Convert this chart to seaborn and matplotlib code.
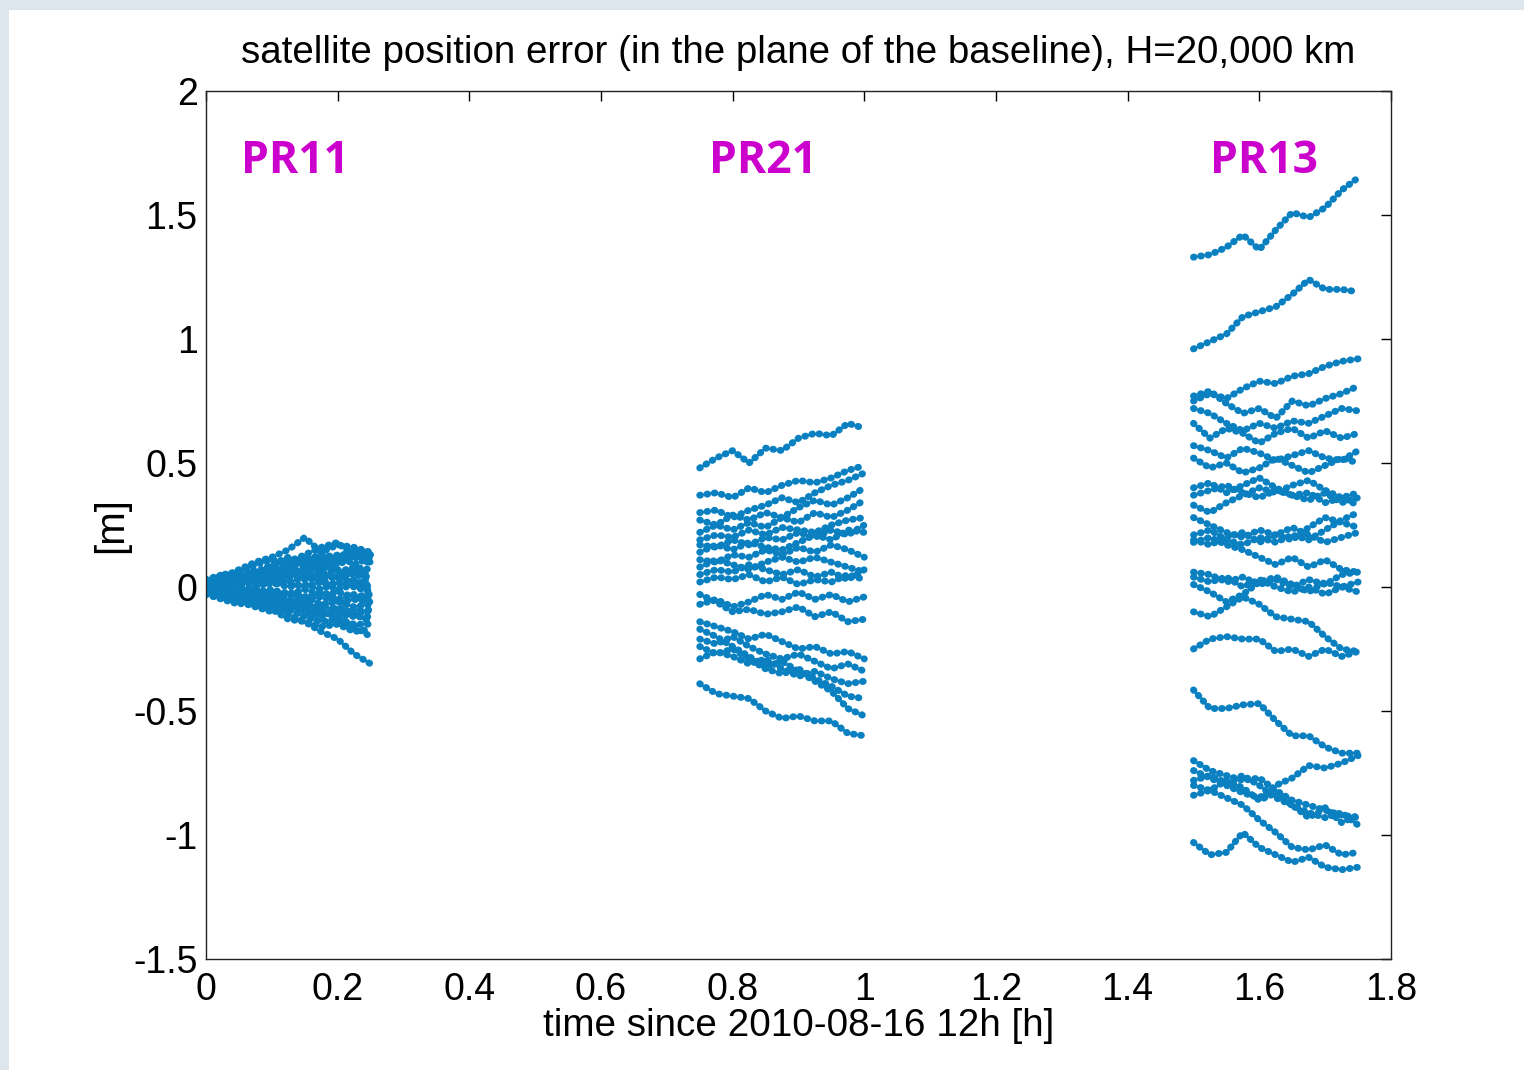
import matplotlib
matplotlib.use("Agg")
import matplotlib.pyplot as plt
from matplotlib.patches import Rectangle
import seaborn as sns
import pandas as pd

# ---------------- data ----------------
pr11_t = [0.0, 0.025, 0.05, 0.075, 0.1, 0.125, 0.15, 0.175, 0.2, 0.225, 0.25]
pr11_tracks = [
    [0.00, 0.04, 0.07, 0.10, 0.12, 0.15, 0.20, 0.14, 0.17, 0.16, 0.14],
    [0.01, 0.05, 0.06, 0.09, 0.11, 0.10, 0.13, 0.16, 0.18, 0.12, 0.15],
    [0.00, 0.03, 0.05, 0.06, 0.08, 0.11, 0.09, 0.12, 0.10, 0.13, 0.11],
    [-0.01, 0.02, 0.04, 0.07, 0.05, 0.08, 0.10, 0.07, 0.09, 0.12, 0.10],
    [0.02, 0.01, 0.03, 0.05, 0.07, 0.05, 0.07, 0.09, 0.06, 0.08, 0.07],
    [0.00, 0.02, 0.01, 0.03, 0.06, 0.04, 0.06, 0.04, 0.07, 0.05, 0.04],
    [-0.02, 0.00, 0.02, 0.01, 0.03, 0.05, 0.03, 0.05, 0.03, 0.06, 0.02],
    [0.01, -0.01, 0.01, 0.03, 0.01, 0.02, 0.04, 0.02, 0.01, 0.03, 0.00],
    [0.00, 0.01, -0.01, 0.00, 0.02, 0.00, 0.01, -0.01, 0.02, 0.00, -0.02],
    [-0.01, -0.02, 0.00, -0.02, -0.01, -0.03, -0.01, -0.03, -0.02, -0.04, -0.03],
    [0.01, -0.01, -0.03, -0.02, -0.04, -0.03, -0.05, -0.04, -0.06, -0.05, -0.06],
    [-0.02, -0.03, -0.02, -0.05, -0.04, -0.06, -0.04, -0.07, -0.06, -0.08, -0.07],
    [0.00, -0.02, -0.04, -0.06, -0.05, -0.07, -0.09, -0.07, -0.10, -0.09, -0.10],
    [-0.01, -0.03, -0.05, -0.04, -0.07, -0.09, -0.08, -0.11, -0.10, -0.12, -0.12],
    [-0.02, -0.04, -0.06, -0.08, -0.10, -0.09, -0.12, -0.14, -0.13, -0.15, -0.15],
    [-0.01, -0.04, -0.03, -0.06, -0.08, -0.11, -0.14, -0.16, -0.15, -0.18, -0.17],
    [0.00, -0.02, -0.05, -0.07, -0.09, -0.13, -0.14, -0.18, -0.21, -0.27, -0.31],
    [0.01, 0.03, 0.02, 0.04, 0.02, 0.05, 0.08, 0.06, 0.04, 0.07, 0.05],
    [0.02, 0.04, 0.03, 0.02, 0.04, 0.02, 0.00, 0.02, -0.01, 0.01, -0.01],
    [-0.01, 0.01, 0.03, 0.05, 0.04, 0.07, 0.05, 0.03, 0.05, 0.02, 0.01],
    [0.00, -0.01, -0.02, -0.04, -0.02, -0.05, -0.07, -0.10, -0.12, -0.11, -0.14],
    [0.01, 0.02, 0.04, 0.03, 0.06, 0.09, 0.12, 0.10, 0.13, 0.09, 0.12],
    [0.00, -0.03, -0.01, -0.03, -0.06, -0.08, -0.06, -0.09, -0.13, -0.16, -0.20],
    [0.01, 0.03, 0.05, 0.04, 0.08, 0.07, 0.11, 0.13, 0.12, 0.15, 0.13],
    [-0.01, 0.00, -0.02, -0.01, -0.03, -0.02, -0.04, -0.02, -0.05, -0.03, -0.05],
    [0.03, 0.05, 0.03, 0.06, 0.09, 0.12, 0.10, 0.08, 0.11, 0.14, 0.09],
    [-0.03, -0.05, -0.07, -0.05, -0.08, -0.06, -0.10, -0.12, -0.08, -0.11, -0.09],
]

pr21_t = [0.75, 0.775, 0.8, 0.825, 0.85, 0.875, 0.9, 0.925, 0.95, 0.975, 1.0]
pr21_tracks = [
    [0.48, 0.52, 0.55, 0.50, 0.56, 0.55, 0.60, 0.62, 0.61, 0.66, 0.64],
    [0.37, 0.38, 0.36, 0.40, 0.38, 0.41, 0.43, 0.42, 0.44, 0.47, 0.49],
    [0.30, 0.31, 0.28, 0.31, 0.33, 0.36, 0.34, 0.38, 0.41, 0.43, 0.46],
    [0.27, 0.25, 0.29, 0.27, 0.30, 0.28, 0.32, 0.35, 0.33, 0.36, 0.40],
    [0.22, 0.25, 0.23, 0.26, 0.24, 0.28, 0.26, 0.30, 0.28, 0.31, 0.35],
    [0.19, 0.21, 0.20, 0.23, 0.21, 0.24, 0.23, 0.22, 0.25, 0.27, 0.28],
    [0.17, 0.16, 0.19, 0.17, 0.20, 0.19, 0.22, 0.20, 0.23, 0.21, 0.25],
    [0.14, 0.17, 0.15, 0.18, 0.16, 0.15, 0.18, 0.21, 0.19, 0.23, 0.22],
    [0.11, 0.10, 0.13, 0.12, 0.15, 0.13, 0.16, 0.14, 0.17, 0.15, 0.12],
    [0.08, 0.11, 0.09, 0.07, 0.10, 0.12, 0.10, 0.12, 0.10, 0.08, 0.06],
    [0.05, 0.07, 0.06, 0.09, 0.07, 0.05, 0.07, 0.04, 0.06, 0.03, 0.07],
    [0.02, 0.04, 0.03, 0.05, 0.02, 0.04, 0.01, 0.03, 0.02, 0.05, 0.03],
    [-0.03, -0.06, -0.10, -0.09, -0.11, -0.10, -0.08, -0.12, -0.10, -0.14, -0.13],
    [-0.07, -0.05, -0.08, -0.06, -0.03, -0.05, -0.02, -0.05, -0.03, -0.06, -0.04],
    [-0.14, -0.16, -0.18, -0.21, -0.19, -0.22, -0.25, -0.24, -0.27, -0.26, -0.29],
    [-0.21, -0.23, -0.20, -0.24, -0.27, -0.29, -0.27, -0.30, -0.33, -0.31, -0.34],
    [-0.29, -0.26, -0.28, -0.31, -0.29, -0.33, -0.36, -0.34, -0.37, -0.39, -0.38],
    [-0.24, -0.27, -0.25, -0.29, -0.33, -0.35, -0.33, -0.37, -0.40, -0.44, -0.45],
    [-0.17, -0.20, -0.24, -0.28, -0.32, -0.30, -0.34, -0.38, -0.42, -0.49, -0.52],
    [-0.39, -0.43, -0.44, -0.45, -0.50, -0.53, -0.52, -0.54, -0.54, -0.59, -0.60],
]

pr13_t = [1.5, 1.525, 1.55, 1.575, 1.6, 1.625, 1.65, 1.675, 1.7, 1.725, 1.75]
pr13_tracks = [
    [1.33, 1.34, 1.37, 1.42, 1.36, 1.44, 1.51, 1.49, 1.53, 1.60, 1.65],
    [0.96, 0.99, 1.02, 1.09, 1.11, 1.13, 1.18, 1.24, 1.20, 1.20, 1.19],
    [0.75, 0.78, 0.76, 0.80, 0.83, 0.82, 0.85, 0.86, 0.89, 0.91, 0.92],
    [0.77, 0.79, 0.74, 0.70, 0.72, 0.68, 0.75, 0.73, 0.76, 0.78, 0.81],
    [0.72, 0.70, 0.66, 0.63, 0.66, 0.64, 0.67, 0.66, 0.69, 0.72, 0.71],
    [0.66, 0.60, 0.64, 0.62, 0.58, 0.62, 0.64, 0.60, 0.63, 0.60, 0.62],
    [0.57, 0.55, 0.52, 0.56, 0.54, 0.51, 0.53, 0.55, 0.52, 0.51, 0.55],
    [0.52, 0.48, 0.50, 0.46, 0.48, 0.52, 0.49, 0.46, 0.49, 0.52, 0.50],
    [0.40, 0.42, 0.38, 0.41, 0.44, 0.40, 0.37, 0.38, 0.34, 0.36, 0.33],
    [0.37, 0.39, 0.41, 0.38, 0.36, 0.39, 0.37, 0.35, 0.38, 0.34, 0.36],
    [0.33, 0.30, 0.34, 0.37, 0.40, 0.38, 0.41, 0.43, 0.39, 0.36, 0.38],
    [0.28, 0.25, 0.22, 0.20, 0.23, 0.21, 0.19, 0.24, 0.28, 0.26, 0.24],
    [0.21, 0.23, 0.19, 0.17, 0.20, 0.18, 0.21, 0.19, 0.23, 0.27, 0.30],
    [0.19, 0.17, 0.20, 0.22, 0.18, 0.21, 0.24, 0.21, 0.18, 0.20, 0.22],
    [0.18, 0.20, 0.17, 0.15, 0.12, 0.09, 0.12, 0.08, 0.11, 0.07, 0.06],
    [0.06, 0.05, 0.02, 0.04, 0.01, 0.03, 0.00, 0.03, 0.01, 0.05, 0.06],
    [0.04, 0.02, 0.04, 0.00, 0.03, 0.00, -0.02, 0.00, -0.03, 0.00, -0.02],
    [0.01, -0.02, -0.06, -0.03, 0.02, 0.04, 0.01, -0.02, 0.02, 0.00, 0.02],
    [-0.10, -0.12, -0.08, -0.04, -0.07, -0.12, -0.13, -0.14, -0.20, -0.25, -0.26],
    [-0.25, -0.21, -0.20, -0.21, -0.21, -0.26, -0.25, -0.28, -0.25, -0.28, -0.26],
    [-0.415, -0.49, -0.49, -0.475, -0.47, -0.54, -0.60, -0.60, -0.645, -0.67, -0.67],
    [-0.74, -0.77, -0.80, -0.83, -0.85, -0.80, -0.77, -0.72, -0.73, -0.71, -0.68],
    [-0.70, -0.74, -0.76, -0.78, -0.77, -0.82, -0.86, -0.88, -0.90, -0.92, -0.93],
    [-0.78, -0.76, -0.79, -0.76, -0.80, -0.85, -0.88, -0.91, -0.93, -0.91, -0.96],
    [-0.80, -0.82, -0.78, -0.81, -0.86, -0.83, -0.88, -0.93, -0.89, -0.95, -0.92],
    [-0.84, -0.82, -0.85, -0.88, -0.94, -0.99, -1.05, -1.06, -1.04, -1.08, -1.07],
    [-1.03, -1.08, -1.07, -0.99, -1.05, -1.08, -1.11, -1.09, -1.13, -1.14, -1.13],
]

group_names = ["PR11", "PR21", "PR13"]
group_label_x = [0.135, 0.846, 1.607]
group_label_y = [1.715, 1.715, 1.715]

x_ticks = [0, 0.2, 0.4, 0.6, 0.8, 1.0, 1.2, 1.4, 1.6, 1.8]
x_tick_labels = ["0", "0.2", "0.4", "0.6", "0.8", "1", "1.2", "1.4", "1.6", "1.8"]
y_ticks = [-1.5, -1, -0.5, 0, 0.5, 1, 1.5, 2]
y_tick_labels = ["-1.5", "-1", "-0.5", "0", "0.5", "1", "1.5", "2"]

title_text = "satellite position error (in the plane of the baseline), H=20,000 km"
x_label = "time since 2010-08-16 12h [h]"
y_label = "[m]"

# ---------------- build long table ----------------
rows = []
for gname, tt, tracks in zip(group_names, [pr11_t, pr21_t, pr13_t],
                             [pr11_tracks, pr21_tracks, pr13_tracks]):
    for k, tr in enumerate(tracks):
        for t, v in zip(tt, tr):
            rows.append({"track": f"{gname}_{k}", "t": t, "err": v})
df = pd.DataFrame(rows)

# ---------------- figure ----------------
sns.set_theme(style="white")
plt.rcParams["font.family"] = ["Liberation Sans", "DejaVu Sans"]

fig = plt.figure(figsize=(15.24, 10.70), dpi=100)
fig.patch.set_facecolor("#dde6ed")
fig.patches.append(Rectangle((9 / 1524, 0), 1, 1 - 10 / 1070,
                             transform=fig.transFigure, facecolor="white",
                             edgecolor="none", zorder=-10))
ax = fig.add_axes([206 / 1524, 1 - 959 / 1070, (1391 - 206) / 1524, (959 - 91) / 1070])
ax.set_facecolor("white")

dot_color = "#0a80c0"
sns.lineplot(data=df, x="t", y="err", units="track", estimator=None,
             color=dot_color, linewidth=5.0, ax=ax, legend=False,
             linestyle=(0, (0.1, 0.95)), dash_capstyle="round")

for name, gx, gy in zip(group_names, group_label_x, group_label_y):
    ax.text(gx, gy, name, color="#cc00cc", fontsize=32, fontweight="bold",
            family=["Open Sans", "DejaVu Sans"], ha="center", va="center")

ax.set_xlim(0, 1.8)
ax.set_ylim(-1.5, 2)
ax.set_xticks(x_ticks)
ax.set_xticklabels(x_tick_labels)
ax.set_yticks(y_ticks)
ax.set_yticklabels(y_tick_labels)
ax.tick_params(axis="both", direction="in", length=7, width=1, top=True, right=True,
               labelsize=27, colors="black")
ax.tick_params(axis="x", pad=9)
ax.tick_params(axis="y", pad=6)
for sp in ax.spines.values():
    sp.set_color("#222222")
    sp.set_linewidth(1)

ax.set_title(title_text, fontsize=27.7, pad=20, color="black")
ax.set_xlabel(x_label, fontsize=27.8, labelpad=0, color="black")
ax.set_ylabel(y_label, fontsize=29, labelpad=2, color="black")

fig.savefig("out.png", dpi=100, facecolor=fig.get_facecolor())
